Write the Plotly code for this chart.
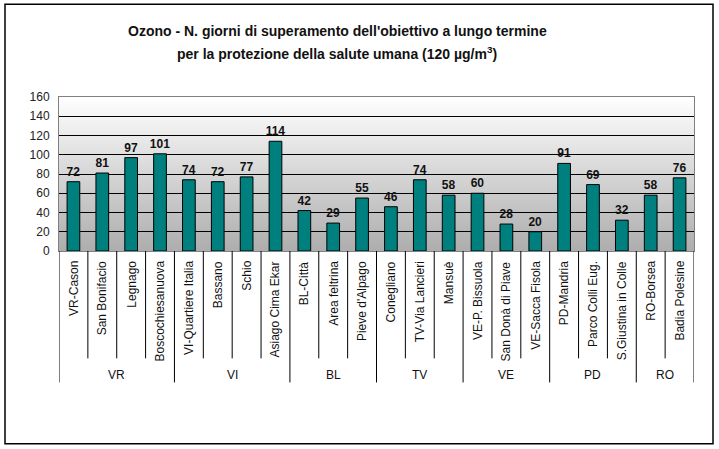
import base64
import plotly.graph_objects as go

# ---------------- data ----------------
stations = ["VR-Cason", "San Bonifacio", "Legnago", "Boscochiesanuova",
            "VI-Quartiere Italia", "Bassano", "Schio", "Asiago Cima Ekar",
            "BL-Città", "Area feltrina", "Pieve d'Alpago",
            "Conegliano", "TV-Via Lancieri", "Mansuè",
            "VE-P. Bissuola", "San Donà di Piave", "VE-Sacca Fisola",
            "PD-Mandria", "Parco Colli Eug.", "S.Giustina in Colle",
            "RO-Borsea", "Badia Polesine"]
provinces = ["VR", "VR", "VR", "VR",
             "VI", "VI", "VI", "VI",
             "BL", "BL", "BL",
             "TV", "TV", "TV",
             "VE", "VE", "VE",
             "PD", "PD", "PD",
             "RO", "RO"]
days = [72, 81, 97, 101, 74, 72, 77, 114, 42, 29, 55, 46, 74, 58, 60, 28, 20, 91, 69, 32, 58, 76]
y_ticks = [0, 20, 40, 60, 80, 100, 120, 140, 160]
title_lines = ["Ozono - N. giorni di superamento dell'obiettivo a lungo termine",
               "per la protezione della salute umana (120 µg/m<sup>3</sup>)"]

FONT = "Liberation Sans, Arial, sans-serif"

fig = go.Figure()
fig.add_trace(go.Bar(
    x=stations, y=days, width=0.44,
    marker=dict(color="#007F7F", line=dict(color="#000000", width=1)),
    text=days, texttemplate="<b>%{text}</b>", textposition="outside",
    constraintext="none",
    textfont=dict(family=FONT, size=12, color="#111111"),
    cliponaxis=False, hoverinfo="x+y"))

# plot-area gradient background (SVG data URI)
svg = ('<svg xmlns="http://www.w3.org/2000/svg" width="10" height="100" preserveAspectRatio="none" viewBox="0 0 10 100">'
       '<defs><linearGradient id="g" x1="0" y1="0" x2="0" y2="1">'
       '<stop offset="0" stop-color="#ffffff"/><stop offset="1" stop-color="#adadad"/>'
       '</linearGradient></defs><rect width="10" height="100" fill="url(#g)"/></svg>')
src = "data:image/svg+xml;base64," + base64.b64encode(svg.encode()).decode()

plot_h = 153.5  # px height of plot area (for paper-units conversions of decoration lengths)
shapes = []
annotations = []
n = len(stations)
# category dividers below the axis
for i in range(n + 1):
    pos = i - 0.5
    left = provinces[i - 1] if i > 0 else None
    right = provinces[i] if i < n else None
    is_group = left != right
    depth = 131 if is_group else 107
    shapes.append(dict(type="line", xref="x", yref="paper", x0=pos, x1=pos,
                       y0=0, y1=-depth / plot_h, line=dict(color="#000000", width=1)))
# station labels
for s in stations:
    annotations.append(dict(x=s, xref="x", y=-8 / plot_h, yref="paper", text=s,
                            textangle=-90, showarrow=False, xanchor="center", yanchor="top",
                            font=dict(family=FONT, size=12, color="#111111")))
# province labels
groups = []
for i, p in enumerate(provinces):
    if not groups or groups[-1][0] != p:
        groups.append([p, i, i])
    else:
        groups[-1][2] = i
for p, a, b in groups:
    annotations.append(dict(x=(a + b) / 2, xref="x", y=-124 / plot_h, yref="paper", text=p,
                            showarrow=False, xanchor="center", yanchor="middle",
                            font=dict(family=FONT, size=12, color="#111111")))

# title (two lines)
for line, py in zip(title_lines, [32, 54]):
    annotations.append(dict(x=(337 - 59) / 635, xref="paper", y=(251 - py) / plot_h, yref="paper",
                            text="<b>" + line + "</b>", showarrow=False,
                            xanchor="center", yanchor="middle",
                            font=dict(family=FONT, size=14, color="#111111")))

# outer border of the chart
shapes.append(dict(type="rect", xref="paper", yref="paper",
                   x0=-54 / 635, x1=654 / 635, y0=-192 / plot_h, y1=246 / plot_h,
                   line=dict(color="#000000", width=1.5), fillcolor="rgba(0,0,0,0)"))

fig.update_layout(
    width=719, height=449,
    margin=dict(l=59, r=25, t=97, b=198, pad=0),
    paper_bgcolor="#ffffff", plot_bgcolor="rgba(0,0,0,0)",
    showlegend=False, bargap=0.5,
    font=dict(family=FONT, size=11, color="#222222"),
    xaxis=dict(type="category", range=[-0.5, n - 0.5], showticklabels=False,
               showgrid=False, ticks="", showline=True, linecolor="#808080",
               linewidth=1, mirror=True, fixedrange=True),
    yaxis=dict(range=[0, 160], tickvals=y_ticks, showgrid=True, gridcolor="#000000",
               gridwidth=1, zeroline=True, zerolinecolor="#000000", zerolinewidth=1,
               showline=True, linecolor="#808080", linewidth=1, mirror=True,
               ticks="", ticklabelstandoff=6,
               tickfont=dict(family=FONT, size=12, color="#222222")),
    images=[dict(source=src, xref="paper", yref="paper", x=0, y=1, sizex=1, sizey=1,
                 sizing="stretch", layer="below", xanchor="left", yanchor="top")],
    shapes=shapes, annotations=annotations,
)

fig.write_html("out.html")
